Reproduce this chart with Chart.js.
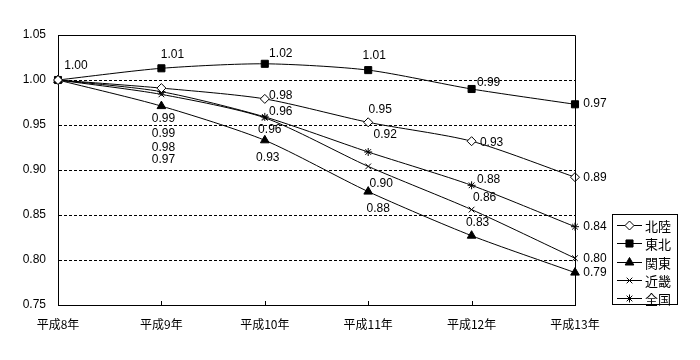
<!DOCTYPE html>
<html><head><meta charset="utf-8">
<script src="https://cdn.jsdelivr.net/npm/chart.js@4"></script>
<style>html,body{margin:0;padding:0;background:#fff}#wrap{width:700px;height:360px}</style>
</head><body><div id="wrap"><canvas id="c" width="700" height="360"></canvas></div>
<script>
const categories = ['平成8年','平成9年','平成10年','平成11年','平成12年','平成13年'];
const seriesNames = ['北陸','東北','関東','近畿','全国'];
const hokuriku = [1.000, 0.991, 0.979, 0.953, 0.932, 0.892];
const tohoku   = [1.000, 1.013, 1.018, 1.011, 0.990, 0.973];
const kanto    = [1.000, 0.971, 0.933, 0.876, 0.827, 0.786];
const kinki    = [1.000, 0.984, 0.958, 0.904, 0.856, 0.802];
const zenkoku  = [1.000, 0.987, 0.959, 0.920, 0.883, 0.837];
const yTicks = [0.75, 0.80, 0.85, 0.90, 0.95, 1.00, 1.05];

const FONT = '"Liberation Sans", "Noto Sans CJK JP", sans-serif';
const JFONT = '"Noto Sans CJK JP", "Liberation Sans", sans-serif';

// label placement: [datasetIndex, pointIndex, dx, dy]
const labelPlacement = [
  [1,0,18,-14],
  [1,1,11,-14],[0,1,2,31],[4,1,2,42],[3,1,2,53],[2,1,2,54],
  [1,2,16,-10],[0,2,16,-3],[4,2,16,-5],[3,2,5,12],[2,2,3,17],
  [1,3,6,-14],[0,3,12,-13],[4,3,17,-17],[3,3,13,17],[2,3,10,17],
  [1,4,17,-6],[0,4,20,1],[4,4,17,-6],[3,4,13,-12],[2,4,6,-13],
  [1,5,20,-1],[0,5,20,0],[4,5,20,0],[3,5,20,0],[2,5,20,0]
];

function ds(label, data, style, radius, fill) {
  return {label, data, borderColor:'#000', borderWidth:1, backgroundColor:fill,
    pointStyle:style, pointRadius:radius, pointHoverRadius:radius, pointBorderColor:'#000',
    pointBackgroundColor:fill, pointBorderWidth:1, tension:0.25, clip:false, fill:false};
}

const datasets = [
  ds(seriesNames[0], hokuriku, 'rectRot', 4.5, '#fff'),
  ds(seriesNames[1], tohoku, 'rect', 5, '#000'),
  ds(seriesNames[2], kanto, 'triangle', 5, '#000'),
  ds(seriesNames[3], kinki, 'crossRot', 4, '#000'),
  ds(seriesNames[4], zenkoku, 'star', 4, '#000')
];

const decor = {
  id:'decor',
  afterDatasetsDraw(chart){
    const ctx = chart.ctx, a = chart.chartArea, xs = chart.scales.x, ys = chart.scales.y;
    ctx.save();
    // plot frame top & right
    ctx.strokeStyle='#000'; ctx.lineWidth=1; ctx.setLineDash([]);
    ctx.beginPath();
    ctx.moveTo(Math.round(a.left)+0.5, Math.round(a.top)+0.5);
    ctx.lineTo(Math.round(a.right)+0.5, Math.round(a.top)+0.5);
    ctx.lineTo(Math.round(a.right)+0.5, Math.round(a.bottom)+0.5);
    ctx.stroke();
    // inner ticks on x axis
    ctx.beginPath();
    for (let i=1;i<categories.length-1;i++){
      const x = Math.round(xs.getPixelForValue(i))+0.5;
      ctx.moveTo(x, Math.round(a.bottom)); ctx.lineTo(x, Math.round(a.bottom)-4);
    }
    ctx.stroke();
    // data labels
    ctx.fillStyle='#000'; ctx.font='12px '+FONT; ctx.textAlign='center'; ctx.textBaseline='middle';
    labelPlacement.forEach(([d,i,dx,dy])=>{
      const v = chart.data.datasets[d].data[i];
      const x = xs.getPixelForValue(i), y = ys.getPixelForValue(v);
      ctx.fillText(v.toFixed(2), x+dx, y+dy);
    });
    // legend
    const lx=612, ly=214, lw=65, lh=90;
    ctx.fillStyle='#fff'; ctx.fillRect(lx,ly,lw,lh);
    ctx.strokeStyle='#000'; ctx.strokeRect(lx+0.5,ly+0.5,lw,lh);
    chart.data.datasets.forEach((dset,k)=>{
      const y = 225 + k*18.3;
      ctx.beginPath(); ctx.moveTo(617, Math.round(y)+0.5); ctx.lineTo(642, Math.round(y)+0.5); ctx.stroke();
      Chart.helpers.drawPoint(ctx, {pointStyle:dset.pointStyle, radius:dset.pointRadius, borderWidth:1}, 629.5, Math.round(y)+0.5);
      ctx.fillStyle = dset.pointBackgroundColor; ctx.strokeStyle='#000';
      ctx.fillStyle='#000'; ctx.font='13px '+JFONT; ctx.textAlign='left'; ctx.textBaseline='middle';
      ctx.fillText(dset.label, 645, y+1);
    });
    ctx.restore();
  }
};

// legend markers need fill; wrap drawPoint usage
const origDraw = Chart.helpers.drawPoint;

new Chart(document.getElementById('c'), {
  type:'line',
  data:{labels:categories, datasets},
  options:{
    responsive:false, animation:false, devicePixelRatio:1,
    layout:{padding:{left:0,right:125,top:35,bottom:0}},
    plugins:{legend:{display:false}, tooltip:{enabled:false}},
    scales:{
      x:{offset:false,
        grid:{display:true, drawOnChartArea:false, drawTicks:false},
        border:{display:true,color:'#000',width:1},
        ticks:{color:'#000', font:{family:JFONT,size:12}, padding:12, maxRotation:0, autoSkip:false},
        afterFit(s){s.height=55;}
      },
      y:{min:0.75,max:1.05,
        afterBuildTicks(s){s.ticks = yTicks.map(v=>({value:v}));},
        grid:{color:(c)=> (c.tick && (Math.abs(c.tick.value-0.75)<1e-6 || Math.abs(c.tick.value-1.05)<1e-6)) ? 'rgba(0,0,0,0)' : '#000', lineWidth:1, drawTicks:false},
        border:{display:true,color:'#000',width:1,dash:[3,2]},
        ticks:{color:'#000', font:{family:FONT,size:12}, padding:12, callback:(v)=>Number(v).toFixed(2)},
        afterFit(s){s.width=58;}
      }
    }
  },
  plugins:[decor]
});
</script></body></html>
